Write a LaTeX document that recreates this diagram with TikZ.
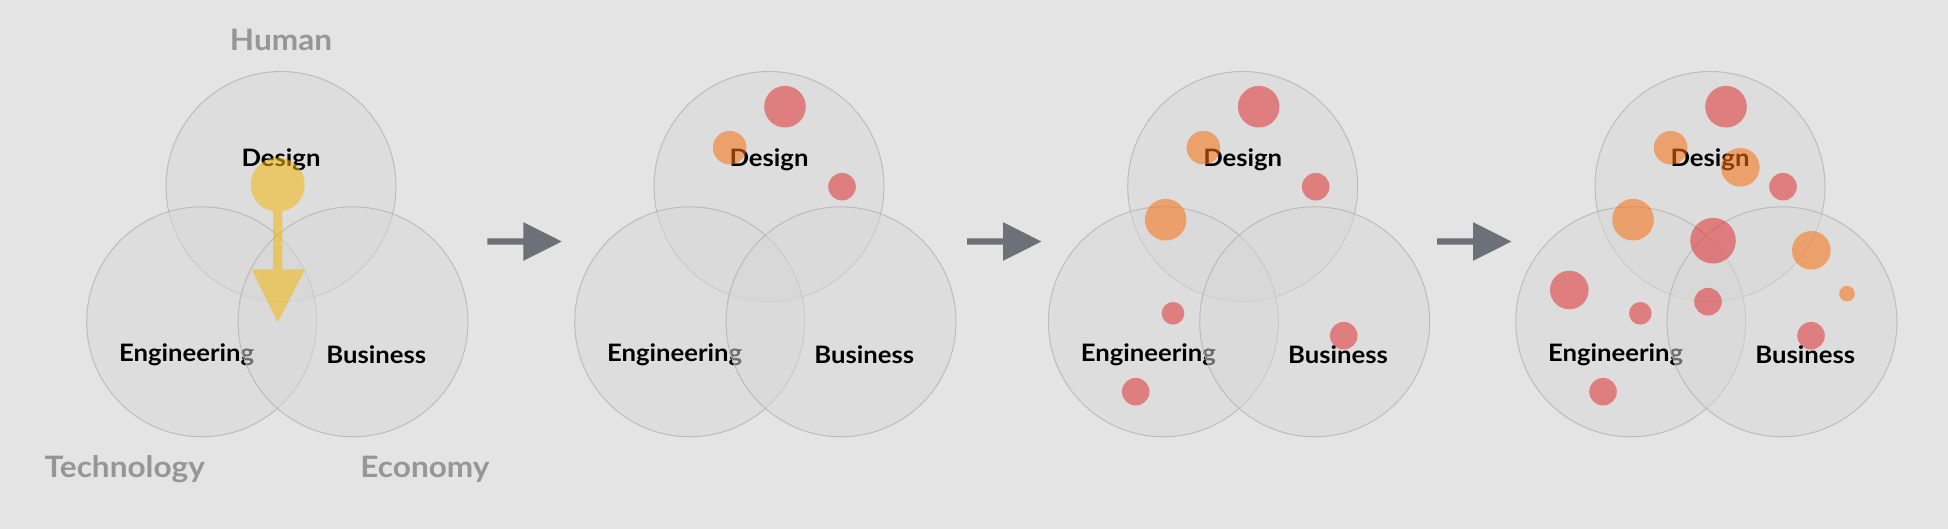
\documentclass[tikz,border=0pt]{standalone}
\usepackage{fontspec}
\setmainfont{Lato}
\newfontfamily\labelfont{Lato}[FakeStretch=1.07]
\definecolor{bg}{RGB}{228,228,228}
\definecolor{vennfill}{RGB}{216,216,216}
\definecolor{vennline}{RGB}{180,180,180}
\definecolor{dotred}{RGB}{225,48,51}
\definecolor{dotorange}{RGB}{249,111,15}
\definecolor{dotyellow}{RGB}{242,184,15}
\definecolor{arrowgray}{RGB}{108,112,120}
\definecolor{labelgray}{RGB}{150,150,150}
\tikzset{
  venn/.style={circle, inner sep=0pt, minimum size=230pt, fill=vennfill, fill opacity=0.5, draw=vennline, draw opacity=0.8, line width=1pt},
  lbl/.style={font=\labelfont\fontsize{24}{24}\selectfont\bfseries, text=black, anchor=base, inner sep=0pt},
  dimlbl/.style={font=\labelfont\fontsize{29.5}{29.5}\selectfont\bfseries, text=labelgray, anchor=base, inner sep=0pt},
  reddot/.style={circle, inner sep=0pt, fill=dotred, fill opacity=0.55},
  orangedot/.style={circle, inner sep=0pt, fill=dotorange, fill opacity=0.55},
}
% #1 panel id, #2 x of the Design circle
\newcommand\vennpanel[2]{%
  \node[venn] (d#1) at (#2,186.5) {};
  \node[lbl] (ld#1) at (#2,166.7) {Design};
  \node[venn] (e#1) at (#2-79.3,321.8) {};
  \node[lbl] (le#1) at (#2-94.3,361.7) {Engineering};
  \node[venn] (b#1) at (#2+72,321.8) {};
  \node[lbl] (lb#1) at (#2+95.3,363.3) {Business};
}
% #1 name, #2 style, #3 x, #4 y, #5 diameter
\newcommand\vdot[5]{\node[#2, minimum size=#5pt] (#1) at (#3,#4) {};}
% #1 name, #2 x of shaft start
\newcommand\grayarrow[2]{%
  \coordinate (#1) at (#2,241.5);
  \fill[arrowgray] (#1) ++(0,-3.15) -- ++(36,0) -- ++(0,-16.2) -- ++(38.4,19.35)
    -- ++(-38.4,19.35) -- ++(0,-16.2) -- ++(-36,0) -- cycle;
}
\begin{document}
\begin{tikzpicture}[x=1pt,y=-1pt]
\fill[bg] (0,0) rectangle (1948,529);
\useasboundingbox (0,0) rectangle (1948,529);

% ---------- panel 1 ----------
\vennpanel{1}{281}
\node[dimlbl] (human) at (281,50.7) {Human};
\node[dimlbl] (tech) at (124.8,477.7) {Technology};
\node[dimlbl] (econ) at (425,477.7) {Economy};
\begin{scope}[transparency group, opacity=0.55]
  \node[circle, inner sep=0pt, minimum size=54pt, fill=dotyellow] (ydot) at (277.7,184.7) {};
  \fill[dotyellow] (273.05,200) rectangle (282.35,270);
  \coordinate (ytip) at (277.7,322.3);
  \fill[dotyellow] (251.7,269.3) -- (305,269.3) -- (ytip) -- cycle;
\end{scope}

\grayarrow{a1}{487.3}

% ---------- panel 2 ----------
\vennpanel{2}{769}
\vdot{p2r1}{reddot}{785}{106.7}{41.6}
\vdot{p2o1}{orangedot}{729.7}{147.7}{33.6}
\vdot{p2r2}{reddot}{842}{186.7}{27.6}

\grayarrow{a2}{967}

% ---------- panel 3 ----------
\vennpanel{3}{1242.7}
\vdot{p3r1}{reddot}{1258.7}{106.7}{41.6}
\vdot{p3o1}{orangedot}{1203.4}{147.7}{33.6}
\vdot{p3r2}{reddot}{1315.7}{186.7}{27.6}
\vdot{p3o2}{orangedot}{1165.7}{219.7}{41.6}
\vdot{p3r3}{reddot}{1173.0}{313.3}{22.6}
\vdot{p3r4}{reddot}{1135.7}{391.7}{27.6}
\vdot{p3r5}{reddot}{1343.7}{335.7}{27.6}

\grayarrow{a3}{1437}

% ---------- panel 4 ----------
\vennpanel{4}{1710}
\vdot{p4r1}{reddot}{1726}{106.7}{41.6}
\vdot{p4o1}{orangedot}{1670.7}{147.7}{33.6}
\vdot{p4r2}{reddot}{1783}{186.7}{27.6}
\vdot{p4o2}{orangedot}{1633}{219.7}{41.6}
\vdot{p4r3}{reddot}{1640.3}{313.3}{22.6}
\vdot{p4r4}{reddot}{1603}{391.7}{27.6}
\vdot{p4r5}{reddot}{1811}{335.7}{27.6}
\vdot{p4o3}{orangedot}{1740.3}{167.3}{38.6}
\vdot{p4r6}{reddot}{1713}{240.7}{45.6}
\vdot{p4o4}{orangedot}{1811.3}{250.3}{38.6}
\vdot{p4r7}{reddot}{1569.3}{290}{38.6}
\vdot{p4r8}{reddot}{1708}{301.7}{27.6}
\vdot{p4o5}{orangedot}{1847}{293.7}{15.6}
\end{tikzpicture}
\end{document}
